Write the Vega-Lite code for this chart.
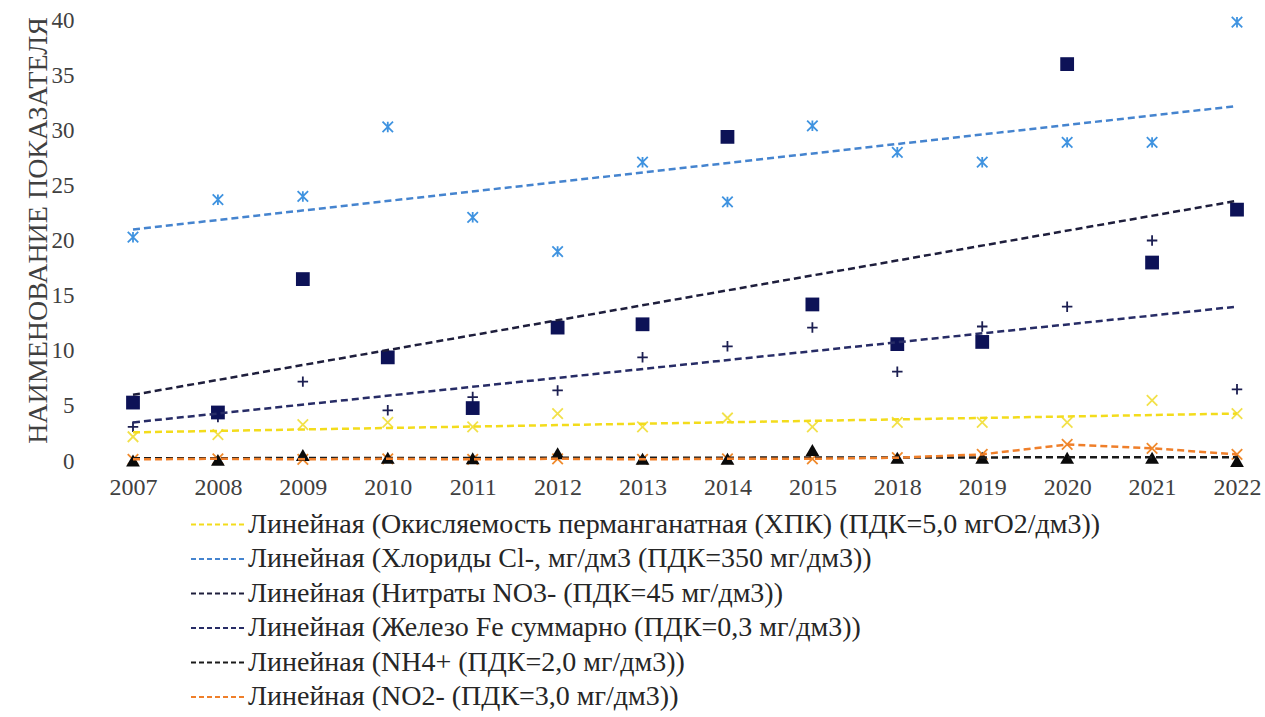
{
  "$schema": "https://vega.github.io/schema/vega-lite/v6.json",
  "width": 1160,
  "height": 441,
  "autosize": {"type": "none"},
  "padding": {"left": 90, "top": 20, "right": 15, "bottom": 256},
  "background": "white",
  "config": {
    "view": {"stroke": null},
    "font": "Liberation Serif, Times New Roman, serif",
    "axis": {"labelFont": "Liberation Serif, Times New Roman, serif", "titleFont": "Liberation Serif, Times New Roman, serif", "labelColor": "#404040", "titleColor": "#404040", "grid": false, "domain": false, "ticks": false},
    "legend": {"labelFont": "Liberation Serif, Times New Roman, serif", "labelColor": "#262626"}
  },
  "datasets": {
    "points": [
      {"year": "2007", "ind": "ХПК", "value": 2.2}, {"year": "2008", "ind": "ХПК", "value": 2.4}, {"year": "2009", "ind": "ХПК", "value": 3.3}, {"year": "2010", "ind": "ХПК", "value": 3.5}, {"year": "2011", "ind": "ХПК", "value": 3.1}, {"year": "2012", "ind": "ХПК", "value": 4.3}, {"year": "2013", "ind": "ХПК", "value": 3.1}, {"year": "2014", "ind": "ХПК", "value": 3.9}, {"year": "2015", "ind": "ХПК", "value": 3.1}, {"year": "2018", "ind": "ХПК", "value": 3.5}, {"year": "2019", "ind": "ХПК", "value": 3.5}, {"year": "2020", "ind": "ХПК", "value": 3.5}, {"year": "2021", "ind": "ХПК", "value": 5.5}, {"year": "2022", "ind": "ХПК", "value": 4.3},
      {"year": "2007", "ind": "Cl", "value": 20.3}, {"year": "2008", "ind": "Cl", "value": 23.7}, {"year": "2009", "ind": "Cl", "value": 24.0}, {"year": "2010", "ind": "Cl", "value": 30.3}, {"year": "2011", "ind": "Cl", "value": 22.1}, {"year": "2012", "ind": "Cl", "value": 19.0}, {"year": "2013", "ind": "Cl", "value": 27.1}, {"year": "2014", "ind": "Cl", "value": 23.5}, {"year": "2015", "ind": "Cl", "value": 30.4}, {"year": "2018", "ind": "Cl", "value": 28.0}, {"year": "2019", "ind": "Cl", "value": 27.1}, {"year": "2020", "ind": "Cl", "value": 28.9}, {"year": "2021", "ind": "Cl", "value": 28.9}, {"year": "2022", "ind": "Cl", "value": 39.8},
      {"year": "2007", "ind": "NO3", "value": 5.3}, {"year": "2008", "ind": "NO3", "value": 4.4}, {"year": "2009", "ind": "NO3", "value": 16.5}, {"year": "2010", "ind": "NO3", "value": 9.4}, {"year": "2011", "ind": "NO3", "value": 4.8}, {"year": "2012", "ind": "NO3", "value": 12.1}, {"year": "2013", "ind": "NO3", "value": 12.4}, {"year": "2014", "ind": "NO3", "value": 29.4}, {"year": "2015", "ind": "NO3", "value": 14.2}, {"year": "2018", "ind": "NO3", "value": 10.6}, {"year": "2019", "ind": "NO3", "value": 10.8}, {"year": "2020", "ind": "NO3", "value": 36.0}, {"year": "2021", "ind": "NO3", "value": 18.0}, {"year": "2022", "ind": "NO3", "value": 22.8},
      {"year": "2007", "ind": "Fe", "value": 3.1}, {"year": "2008", "ind": "Fe", "value": 4.0}, {"year": "2009", "ind": "Fe", "value": 7.2}, {"year": "2010", "ind": "Fe", "value": 4.6}, {"year": "2011", "ind": "Fe", "value": 5.8}, {"year": "2012", "ind": "Fe", "value": 6.4}, {"year": "2013", "ind": "Fe", "value": 9.4}, {"year": "2014", "ind": "Fe", "value": 10.4}, {"year": "2015", "ind": "Fe", "value": 12.1}, {"year": "2018", "ind": "Fe", "value": 8.1}, {"year": "2019", "ind": "Fe", "value": 12.2}, {"year": "2020", "ind": "Fe", "value": 14.0}, {"year": "2021", "ind": "Fe", "value": 20.0}, {"year": "2022", "ind": "Fe", "value": 6.5},
      {"year": "2007", "ind": "NH4", "value": 0.05}, {"year": "2008", "ind": "NH4", "value": 0.1}, {"year": "2009", "ind": "NH4", "value": 0.55}, {"year": "2010", "ind": "NH4", "value": 0.3}, {"year": "2011", "ind": "NH4", "value": 0.25}, {"year": "2012", "ind": "NH4", "value": 0.7}, {"year": "2013", "ind": "NH4", "value": 0.2}, {"year": "2014", "ind": "NH4", "value": 0.2}, {"year": "2015", "ind": "NH4", "value": 1.0}, {"year": "2018", "ind": "NH4", "value": 0.3}, {"year": "2019", "ind": "NH4", "value": 0.3}, {"year": "2020", "ind": "NH4", "value": 0.3}, {"year": "2021", "ind": "NH4", "value": 0.3}, {"year": "2022", "ind": "NH4", "value": 0.0},
      {"year": "2007", "ind": "NO2", "value": 0.15}, {"year": "2008", "ind": "NO2", "value": 0.2}, {"year": "2009", "ind": "NO2", "value": 0.15}, {"year": "2010", "ind": "NO2", "value": 0.2}, {"year": "2011", "ind": "NO2", "value": 0.15}, {"year": "2012", "ind": "NO2", "value": 0.2}, {"year": "2013", "ind": "NO2", "value": 0.15}, {"year": "2014", "ind": "NO2", "value": 0.2}, {"year": "2015", "ind": "NO2", "value": 0.2}, {"year": "2018", "ind": "NO2", "value": 0.3}, {"year": "2019", "ind": "NO2", "value": 0.6}, {"year": "2020", "ind": "NO2", "value": 1.5}, {"year": "2021", "ind": "NO2", "value": 1.15}, {"year": "2022", "ind": "NO2", "value": 0.6}
    ],
    "trend": [
      {"year": "2007", "series": "Линейная (Окисляемость перманганатная (ХПК) (ПДК=5,0 мгО2/дм3))", "value": 2.6},
      {"year": "2022", "series": "Линейная (Окисляемость перманганатная (ХПК) (ПДК=5,0 мгО2/дм3))", "value": 4.3},
      {"year": "2007", "series": "Линейная (Хлориды Cl-, мг/дм3 (ПДК=350 мг/дм3))", "value": 21.0},
      {"year": "2022", "series": "Линейная (Хлориды Cl-, мг/дм3 (ПДК=350 мг/дм3))", "value": 32.2},
      {"year": "2007", "series": "Линейная (Нитраты NO3- (ПДК=45 мг/дм3))", "value": 6.0},
      {"year": "2022", "series": "Линейная (Нитраты NO3- (ПДК=45 мг/дм3))", "value": 23.6},
      {"year": "2007", "series": "Линейная (Железо Fe суммарно (ПДК=0,3 мг/дм3))", "value": 3.5},
      {"year": "2022", "series": "Линейная (Железо Fe суммарно (ПДК=0,3 мг/дм3))", "value": 14.0},
      {"year": "2007", "series": "Линейная (NH4+ (ПДК=2,0 мг/дм3))", "value": 0.25},
      {"year": "2022", "series": "Линейная (NH4+ (ПДК=2,0 мг/дм3))", "value": 0.35},
      {"year": "2007", "series": "Линейная (NO2- (ПДК=3,0 мг/дм3))", "value": 0.15},
      {"year": "2008", "series": "Линейная (NO2- (ПДК=3,0 мг/дм3))", "value": 0.2},
      {"year": "2009", "series": "Линейная (NO2- (ПДК=3,0 мг/дм3))", "value": 0.15},
      {"year": "2010", "series": "Линейная (NO2- (ПДК=3,0 мг/дм3))", "value": 0.2},
      {"year": "2011", "series": "Линейная (NO2- (ПДК=3,0 мг/дм3))", "value": 0.15},
      {"year": "2012", "series": "Линейная (NO2- (ПДК=3,0 мг/дм3))", "value": 0.2},
      {"year": "2013", "series": "Линейная (NO2- (ПДК=3,0 мг/дм3))", "value": 0.15},
      {"year": "2014", "series": "Линейная (NO2- (ПДК=3,0 мг/дм3))", "value": 0.2},
      {"year": "2015", "series": "Линейная (NO2- (ПДК=3,0 мг/дм3))", "value": 0.2},
      {"year": "2018", "series": "Линейная (NO2- (ПДК=3,0 мг/дм3))", "value": 0.3},
      {"year": "2019", "series": "Линейная (NO2- (ПДК=3,0 мг/дм3))", "value": 0.6},
      {"year": "2020", "series": "Линейная (NO2- (ПДК=3,0 мг/дм3))", "value": 1.5},
      {"year": "2021", "series": "Линейная (NO2- (ПДК=3,0 мг/дм3))", "value": 1.15},
      {"year": "2022", "series": "Линейная (NO2- (ПДК=3,0 мг/дм3))", "value": 0.6}
    ]
  },
  "encoding": {
    "x": {"field": "year", "type": "ordinal", "sort": null,
      "scale": {"type": "point", "domain": ["2007","2008","2009","2010","2011","2012","2013","2014","2015","2018","2019","2020","2021","2022"], "range": [43, 1147], "padding": 0},
      "axis": {"title": null, "labelAngle": 0, "labelFont": "Liberation Serif, Times New Roman, serif", "labelFontSize": 24, "labelPadding": 14}},
    "y": {"field": "value", "type": "quantitative",
      "scale": {"domain": [0, 40], "nice": false},
      "axis": {"title": "НАИМЕНОВАНИЕ ПОКАЗАТЕЛЯ", "values": [0,5,10,15,20,25,30,35,40], "labelFont": "Liberation Serif, Times New Roman, serif", "labelFontSize": 23, "labelPadding": 16, "titleFont": "Liberation Serif, Times New Roman, serif", "titleFontSize": 28, "titleFontWeight": "normal", "titlePadding": -1, "titleY": 210}}
  },
  "layer": [
    {
      "data": {"name": "points"},
      "encoding": {
        "color": {"field": "ind", "type": "nominal", "legend": null,
          "scale": {"domain": ["ХПК","Cl","NO3","Fe","NH4","NO2"], "range": ["#f2e14a","#3f93e0","#0d1257","#1c1f52","#0a0a0a","#f08a2c"]}},
        "shape": {"field": "ind", "type": "nominal", "legend": null,
          "scale": {"domain": ["ХПК","Cl","NO3","Fe","NH4","NO2"], "range": ["M-1,-1L1,1M-1,1L1,-1", "M-1,-1L1,1M-1,1L1,-1M0,-1L0,1", "square", "M-1,0L1,0M0,-1L0,1", "triangle-up", "M-1,-1L1,1M-1,1L1,-1"]}}
      },
      "layer": [
        {"transform": [{"filter": "datum.ind === 'ХПК' || datum.ind === 'Cl' || datum.ind === 'Fe' || datum.ind === 'NO2'"}],
         "mark": {"type": "point", "filled": false, "strokeWidth": 1.8, "opacity": 1, "size": 110}},
        {"transform": [{"filter": "datum.ind === 'NO3' || datum.ind === 'NH4'"}],
         "mark": {"type": "point", "filled": true, "opacity": 1, "size": 190}}
      ]
    },
    {
      "data": {"name": "trend"},
      "mark": {"type": "line", "strokeDash": [7, 4], "strokeWidth": 2.5},
      "encoding": {
        "color": {"field": "series", "type": "nominal",
          "scale": {"domain": [
            "Линейная (Окисляемость перманганатная (ХПК) (ПДК=5,0 мгО2/дм3))",
            "Линейная (Хлориды Cl-, мг/дм3 (ПДК=350 мг/дм3))",
            "Линейная (Нитраты NO3- (ПДК=45 мг/дм3))",
            "Линейная (Железо Fe суммарно (ПДК=0,3 мг/дм3))",
            "Линейная (NH4+ (ПДК=2,0 мг/дм3))",
            "Линейная (NO2- (ПДК=3,0 мг/дм3))"],
            "range": ["#f3dc1c","#4584cf","#1e1e3c","#272c66","#1a1a1a","#ef7f2a"]},
          "legend": {"title": null, "orient": "none", "legendX": 125, "legendY": 488, "symbolType": "M-2.7,0L1,0", "symbolSize": 900, "symbolStrokeWidth": 2.2, "symbolDash": [5, 3], "labelFont": "Liberation Serif, Times New Roman, serif", "labelFontSize": 28, "labelLimit": 1200, "rowPadding": 3.5, "labelOffset": 0}}
      }
    }
  ],
  "resolve": {"scale": {"color": "independent", "shape": "independent"}}
}
